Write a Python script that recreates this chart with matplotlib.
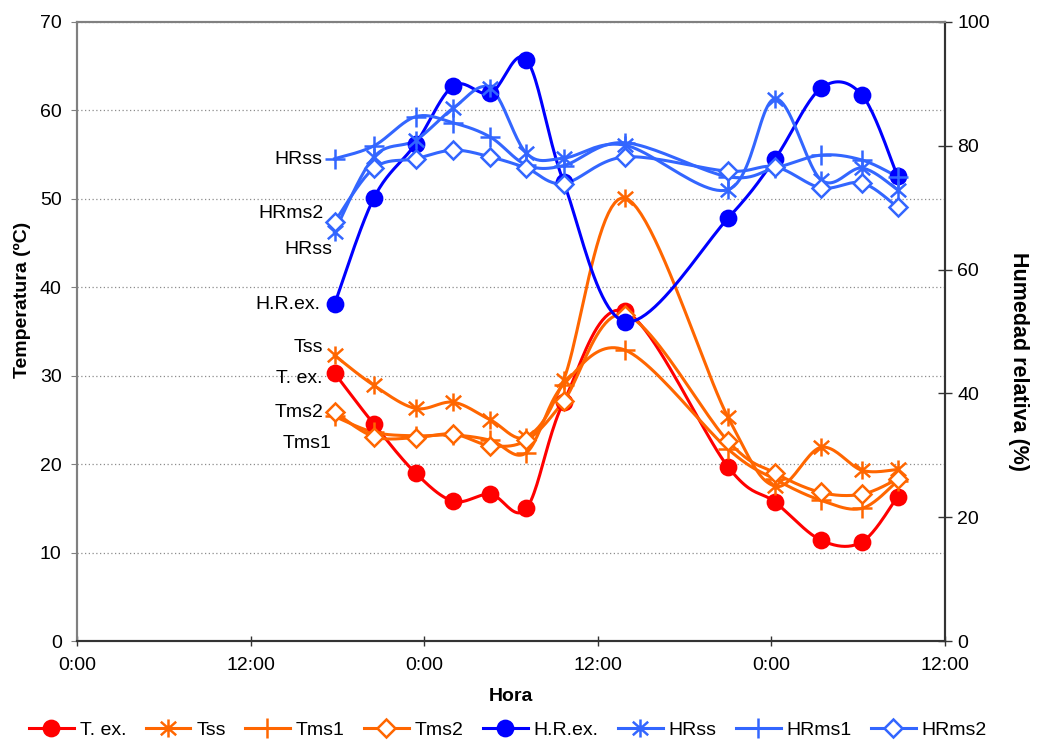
import numpy as np
import matplotlib
matplotlib.use("Agg")
import matplotlib.pyplot as plt
from matplotlib.path import Path

plt.rcParams['font.family'] = ['Liberation Sans', 'DejaVu Sans']
plt.rcParams['font.size'] = 14

# Sampling times, hours counted from 0:00 of the first day
hours = [17.8, 20.53, 23.4, 26.02, 28.58, 31.07, 33.63, 37.88, 45.0, 48.25, 51.43, 54.26, 56.72]

# Temperatures (ºC)
t_ex = [30.3, 24.5, 19.0, 15.8, 16.6, 15.0, 27.0, 37.3, 19.7, 15.7, 11.4, 11.2, 16.3]
t_ss = [32.3, 28.9, 26.3, 27.0, 25.0, 23.1, 29.5, 50.1, 25.3, 17.5, 21.9, 19.3, 19.4]
t_ms1 = [25.4, 23.6, 23.2, 23.3, 22.7, 21.3, 29.0, 32.9, 21.7, 18.3, 15.9, 15.0, 18.1]
t_ms2 = [25.9, 23.1, 23.0, 23.4, 22.1, 22.7, 27.1, 36.9, 22.6, 19.0, 16.8, 16.6, 18.3]

# Relative humidity (%)
hr_ex = [54.4, 71.6, 80.3, 89.7, 88.5, 93.9, 74.2, 51.6, 68.3, 77.9, 89.3, 88.2, 75.1]
hr_ss = [66.1, 78.2, 80.9, 86.1, 89.3, 78.8, 78.0, 80.1, 72.9, 87.6, 74.5, 76.4, 72.9]
hr_ms1 = [77.9, 80.0, 84.7, 83.7, 81.4, 76.9, 76.8, 80.5, 75.0, 76.4, 78.5, 77.7, 75.0]
hr_ms2 = [67.7, 76.4, 77.9, 79.3, 78.2, 76.4, 73.9, 78.2, 75.9, 76.6, 73.2, 74.0, 70.1]

x_ticks = [0, 12, 24, 36, 48, 60]
x_tick_labels = ["0:00", "12:00", "0:00", "12:00", "0:00", "12:00"]

RED = "#FF0000"
ORANGE = "#FF6600"
BLUE = "#0000FF"
LBLUE = "#3366FF"

# six-armed asterisk: vertical stroke plus an X
ASTERISK = Path(
    [(0, -1), (0, 1), (-0.85, -0.75), (0.85, 0.75), (-0.85, 0.75), (0.85, -0.75)],
    [Path.MOVETO, Path.LINETO, Path.MOVETO, Path.LINETO, Path.MOVETO, Path.LINETO],
)

W, H = 1040, 746
fig = plt.figure(figsize=(W / 100, H / 100), dpi=100)
ax = fig.add_axes([77 / W, 1 - 641 / H, (945 - 77) / W, (641 - 22) / H])
ax2 = ax.twinx()

ax.set_xlim(0, 60)
ax.set_ylim(0, 70)
ax2.set_ylim(0, 100)


def smooth(axis, x, y, n=24):
    """Bezier smoothing through the points, computed in screen space."""
    pts = axis.transData.transform(np.column_stack([x, y]))
    P = np.vstack([pts[0], pts, pts[-1]])
    t = np.linspace(0, 1, n)[:, None]
    out = []
    for i in range(1, len(P) - 2):
        p0, p1, p2, p3 = P[i - 1], P[i], P[i + 1], P[i + 2]
        c1 = p1 + (p2 - p0) / 6
        c2 = p2 - (p3 - p1) / 6
        seg = (1 - t) ** 3 * p1 + 3 * (1 - t) ** 2 * t * c1 + 3 * (1 - t) * t ** 2 * c2 + t ** 3 * p2
        out.append(seg if i == 1 else seg[1:])
    curve = axis.transData.inverted().transform(np.vstack(out))
    return curve[:, 0], curve[:, 1]


def series(axis, y, color, marker, label, ms, face=None, mew=1.8):
    sx, sy = smooth(axis, hours, y)
    axis.plot(sx, sy, color=color, lw=2.2, zorder=3)
    axis.plot(hours, y, linestyle="none", marker=marker, ms=ms, color=color,
              mfc=face if face is not None else color, mec=color, mew=mew, zorder=4)
    # legend proxy: line with marker
    h, = axis.plot([], [], color=color, lw=2.2, marker=marker, ms=ms,
                   mfc=face if face is not None else color, mec=color, mew=mew, label=label)
    return h


handles = []
handles.append(series(ax, t_ex, RED, "o", "T. ex.", 11))
handles.append(series(ax, t_ss, ORANGE, ASTERISK, "Tss", 13))
handles.append(series(ax, t_ms1, ORANGE, "+", "Tms1", 14))
handles.append(series(ax, t_ms2, ORANGE, "D", "Tms2", 9, face="white"))
handles.append(series(ax2, hr_ex, BLUE, "o", "H.R.ex.", 11))
handles.append(series(ax2, hr_ss, LBLUE, ASTERISK, "HRss", 13))
handles.append(series(ax2, hr_ms1, LBLUE, "+", "HRms1", 14))
handles.append(series(ax2, hr_ms2, LBLUE, "D", "HRms2", 9, face="white"))

# series names written next to the first reading
first = hours[0]
labels = [
    (ax2, hr_ms1[0], "HRss", (-12, -1)),
    (ax2, hr_ms2[0], "HRms2", (-11, 8)),
    (ax2, hr_ss[0], "HRss", (-2, -18)),
    (ax2, hr_ex[0], "H.R.ex.", (-14, 0)),
    (ax, t_ss[0], "Tss", (-11, 8)),
    (ax, t_ex[0], "T. ex.", (-12, -5)),
    (ax, t_ms2[0], "Tms2", (-11, -1)),
    (ax, t_ms1[0], "Tms1", (-3, -27)),
]
for axis, val, txt, off in labels:
    axis.annotate(txt, xy=(first, val), xytext=off, textcoords="offset pixels",
                  ha="right", va="center", fontsize=14, color="black", zorder=6)

# grid and axes styling
ax.set_yticks(range(0, 71, 10))
ax.yaxis.grid(True, linestyle=(0, (1, 2)), color="#8c8c8c", linewidth=0.9)
ax.set_axisbelow(True)
ax2.set_yticks(range(0, 101, 20))
ax.set_xticks(x_ticks)
ax.set_xticklabels(x_tick_labels)

ax.tick_params(axis="y", direction="out", length=4, width=0.8, color="#808080", pad=7, labelsize=14)
ax.tick_params(axis="x", direction="inout", length=7, width=1, color="#333333", pad=8, labelsize=14)
ax2.tick_params(axis="y", direction="inout", length=10, width=1, color="#333333", pad=4, labelsize=14)

for a in (ax, ax2):
    a.spines["top"].set_color("#808080")
    a.spines["left"].set_color("#808080")
    a.spines["bottom"].set_color("#333333")
    a.spines["right"].set_color("#333333")
    for s in ("top", "left", "bottom", "right"):
        a.spines[s].set_linewidth(1.5)

ax.set_xlabel("Hora", fontweight="bold", fontsize=14, labelpad=10)

# axis titles
fig.text(22 / W, 1 - 300 / H, "Temperatura (ºC)", rotation=90, ha="center", va="center",
         fontweight="bold", fontsize=14)
fig.text(1018 / W, 1 - 362 / H, "Humedad relativa (%)", rotation=270, ha="center", va="center",
         fontweight="bold", fontsize=15.5)

fig.legend(handles=handles, loc="center", bbox_to_anchor=(508 / W, 16 / H), ncol=8,
           frameon=False, fontsize=14, handlelength=2.3, handletextpad=0.3, columnspacing=1.0,
           borderpad=0)

fig.savefig("out.png", dpi=100)
